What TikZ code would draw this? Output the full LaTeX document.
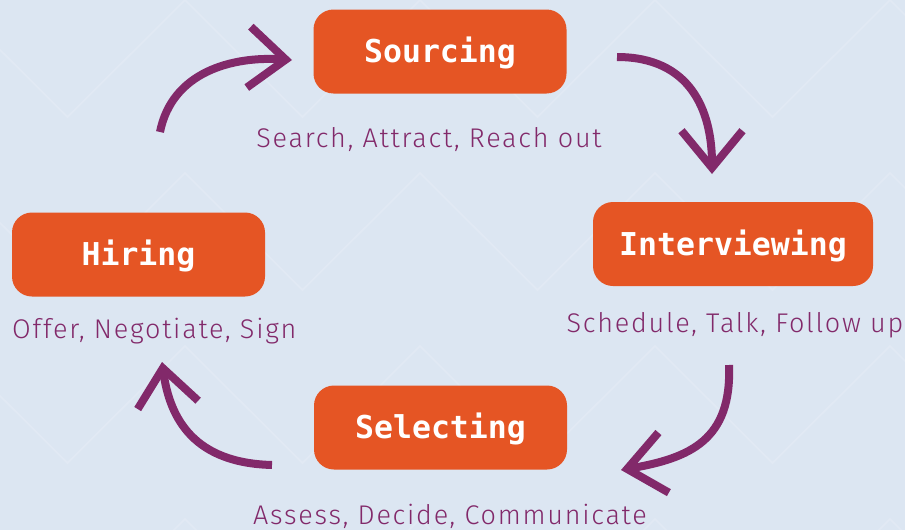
\documentclass[tikz,border=0pt]{standalone}
\usepackage{fontspec}
\newfontfamily\boxfont{DejaVu Sans Mono}
\newfontfamily\notefont{Fira Sans Light}[LetterSpace=6.5]
\usetikzlibrary{arrows.meta}
\definecolor{bgblue}{HTML}{DCE6F2}
\definecolor{zigzag}{HTML}{E1E9F4}
\definecolor{stageorange}{HTML}{E55524}
\definecolor{plum}{HTML}{82296A}

\begin{document}
\begin{tikzpicture}[x=1pt,y=-1pt,
  stage/.style={fill=stageorange,rounded corners=20pt,minimum width=253pt,minimum height=84pt,inner sep=0pt,
    text=white,font=\boxfont\bfseries\fontsize{31.5}{36}\selectfont,text height=22pt,text depth=0pt},
  note/.style={text=plum,font=\notefont\fontsize{27}{32}\selectfont,inner sep=0pt},
  turn/.style={draw=plum,line width=8pt,-{Straight Barb[length=37pt,width=61pt]}}]
\fill[bgblue] (0,0) rectangle (905,530);
\begin{scope}
\clip (0,0) rectangle (905,530);
\foreach \r in {0,...,3}
  \draw[zigzag,line width=1.8pt] (-50,173*\r) \foreach \c in {1,...,5}{-- ++(117.5,117) -- ++(117.5,-117)};
\end{scope}
\node[stage] (src) at (440,51.5){Sourcing};
\node[stage,minimum width=280pt] (itv) at (733,244){Interviewing};
\node[stage] (sel) at (440.5,427.5){Selecting};
\node[stage] (hir) at (138.5,254.5){Hiring};
\node[note,anchor=base] (srcnote) at (429,147){Search, Attract, Reach out};
\node[note,anchor=base] (itvnote) at (735,332){Schedule, Talk, Follow up};
\node[note,anchor=base] (selnote) at (450,524){Assess, Decide, Communicate};
\node[note,anchor=base west] (hirnote) at (12,338){Offer, Negotiate, Sign};
\coordinate (a1) at (160,132); \coordinate (a2) at (292,60);
\coordinate (b1) at (617,57);  \coordinate (b2) at (712,174);
\coordinate (c1) at (729,365); \coordinate (c2) at (621,470);
\coordinate (d1) at (272,465); \coordinate (d2) at (162,362);
\draw[turn] (a1) .. controls (172,72) and (232,56) .. (a2);
\draw[turn] (b1) .. controls (690,57) and (712,110) .. (b2);
\draw[turn] (c1) .. controls (732,440) and (690,458) .. (c2);
\draw[turn] (d1) .. controls (195,463) and (170,420) .. (d2);
\end{tikzpicture}
\end{document}
